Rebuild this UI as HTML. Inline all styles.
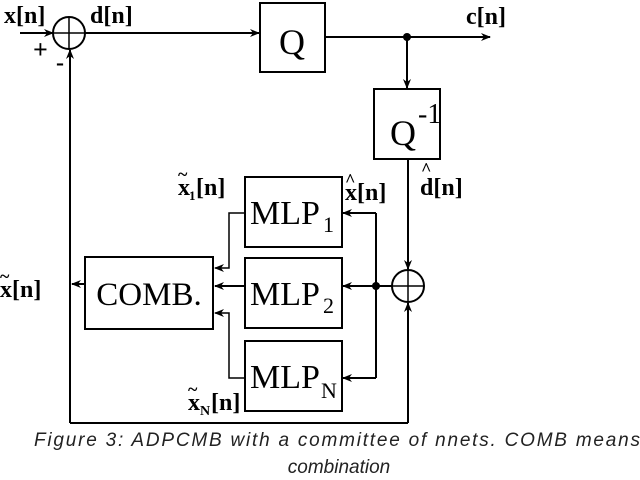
<!DOCTYPE html>
<html><head><meta charset="utf-8"><style>
html,body{margin:0;padding:0;background:#fff;width:640px;height:480px;overflow:hidden}
svg{display:block}
text{font-family:"Liberation Serif",serif;fill:#000}
.cap{font-family:"Liberation Sans",sans-serif;font-style:italic;font-size:19px;fill:#222}
</style></head><body>
<svg width="640" height="480" viewBox="0 0 640 480">
<defs><marker id="a" markerWidth="10" markerHeight="10" refX="9" refY="5" orient="auto" markerUnits="userSpaceOnUse"><path d="M0,1 L10,5 L0,9 L3,5 Z" fill="#000"/></marker></defs>
<g stroke="#000" stroke-width="2" fill="none">
<!-- summer 1 -->
<circle cx="69" cy="33" r="16"/>
<line x1="53" y1="33" x2="85" y2="33" stroke-width="1.5"/>
<line x1="69" y1="17" x2="69" y2="49" stroke-width="1.5"/>
<line x1="20" y1="33" x2="53" y2="33" marker-end="url(#a)"/>
<line x1="85" y1="33" x2="259" y2="33" marker-end="url(#a)"/>
<!-- Q -->
<rect x="260" y="3" width="65" height="69"/>
<line x1="325" y1="37" x2="490" y2="37" marker-end="url(#a)"/>
<line x1="407" y1="37" x2="407" y2="88" marker-end="url(#a)"/>
<rect x="374" y="89" width="66" height="70"/>
<line x1="408" y1="159" x2="408" y2="269" marker-end="url(#a)"/>
<!-- summer 2 -->
<circle cx="408" cy="286" r="16"/>
<line x1="392" y1="286" x2="424" y2="286" stroke-width="1.5"/>
<line x1="408" y1="270" x2="408" y2="302" stroke-width="1.5"/>
<line x1="408" y1="423" x2="408" y2="303" marker-end="url(#a)"/>
<line x1="408" y1="423" x2="70" y2="423"/>
<line x1="70" y1="423" x2="70" y2="50" marker-end="url(#a)"/>
<!-- distribution -->
<line x1="392" y1="286" x2="343" y2="286" marker-end="url(#a)"/>
<line x1="376" y1="213" x2="376" y2="378"/>
<line x1="376" y1="213" x2="343" y2="213" marker-end="url(#a)"/>
<line x1="376" y1="378" x2="343" y2="378" marker-end="url(#a)"/>
<!-- MLPs -->
<rect x="245" y="177" width="97" height="70"/>
<rect x="245" y="258" width="97" height="70"/>
<rect x="245" y="341" width="97" height="70"/>
<rect x="85" y="257" width="128" height="72"/>
<polyline points="245,213 229,213 229,268 215,268" stroke-width="1.5" marker-end="url(#a)"/>
<line x1="245" y1="286" x2="215" y2="286" marker-end="url(#a)"/>
<polyline points="245,378 229,378 229,313 215,313" stroke-width="1.5" marker-end="url(#a)"/>
<line x1="85" y1="284" x2="72" y2="284" marker-end="url(#a)"/>
</g>
<circle cx="407" cy="37" r="4" fill="#000"/>
<circle cx="376" cy="286" r="4" fill="#000"/>
<text x="4" y="23" font-size="24" font-weight="bold">x[n]</text>
<text x="90" y="23" font-size="24" font-weight="bold">d[n]</text>
<text x="33" y="58" font-size="26" font-weight="bold">+</text>
<text x="56" y="70" font-size="24" font-weight="bold">-</text>
<text x="279" y="54" font-size="36">Q</text>
<text x="466" y="24" font-size="24" font-weight="bold">c[n]</text>
<text x="390" y="145" font-size="36">Q</text>
<text x="418" y="123" font-size="28">-1</text>
<text x="420" y="195" font-size="24" font-weight="bold">d[n]</text>
<text x="421" y="175" font-size="18" font-weight="bold">^</text>
<text x="345" y="200" font-size="24" font-weight="bold">x[n]</text>
<text x="345" y="186" font-size="18" font-weight="bold">^</text>
<text x="178" y="195" font-size="24" font-weight="bold">x</text>
<text x="178" y="180" font-size="18" font-weight="bold">~</text>
<text x="189" y="200" font-size="13" font-weight="bold">1</text>
<text x="196" y="195" font-size="24" font-weight="bold">[n]</text>
<text x="188" y="410" font-size="24" font-weight="bold">x</text>
<text x="188" y="395" font-size="18" font-weight="bold">~</text>
<text x="200" y="415" font-size="14" font-weight="bold">N</text>
<text x="211" y="410" font-size="24" font-weight="bold">[n]</text>
<text x="0" y="297" font-size="24" font-weight="bold">x[n]</text>
<text x="0" y="282" font-size="18" font-weight="bold">~</text>
<text x="250" y="224" font-size="34">MLP</text>
<text x="323" y="232" font-size="22">1</text>
<text x="250" y="305" font-size="34">MLP</text>
<text x="323" y="313" font-size="22">2</text>
<text x="250" y="388" font-size="34">MLP</text>
<text x="321" y="398" font-size="22">N</text>
<text x="149" y="305" font-size="33" text-anchor="middle">COMB.</text>
<text class="cap" x="640" y="446" text-anchor="end" textLength="606">Figure 3: ADPCMB with a committee of nnets. COMB means</text>
<text class="cap" x="339" y="473" text-anchor="middle">combination</text>
</svg>
</body></html>
